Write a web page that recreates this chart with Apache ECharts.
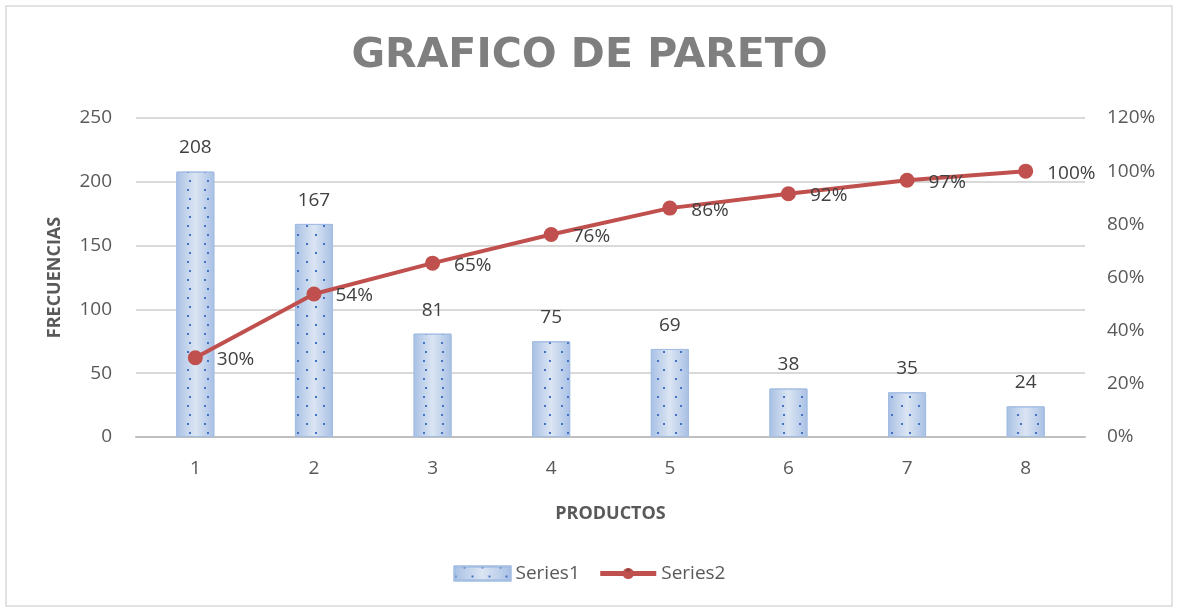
<!DOCTYPE html>
<html>
<head>
<meta charset="utf-8">
<script src="https://cdn.jsdelivr.net/npm/echarts@6/dist/echarts.min.js"></script>
<style>
  html, body { margin: 0; padding: 0; background: #fff; }
  #chart { width: 1179px; height: 610px; }
</style>
</head>
<body>
<div id="chart"></div>
<script>
// chart data
const productos = ['1', '2', '3', '4', '5', '6', '7', '8']
const frecuencias = [208, 167, 81, 75, 69, 38, 35, 24]
const acumulado = [29.8, 53.8, 65.4, 76.2, 86.1, 91.5, 96.6, 100]

const txt = '#595959'
const font = '"Open Sans", "Noto Sans", sans-serif'

const chart = echarts.init(document.getElementById('chart'))

const option = {
  animation: false,
  aria: { enabled: true, decal: { show: true } },
  title: {
    text: 'GRAFICO DE PARETO',
    left: 'center',
    top: 31,
    textStyle: { color: '#7f7f7f', fontSize: 41, fontWeight: 'bold', fontFamily: '"DejaVu Sans", sans-serif' }
  },
  legend: {
    bottom: 22,
    left: 'center',
    itemGap: 18,
    itemWidth: 56,
    itemHeight: 14,
    textStyle: { color: txt, fontSize: 19, fontFamily: font },
    data: [
      { name: 'Series1', icon: 'rect' },
      { name: 'Series2', lineStyle: { width: 5 } }
    ]
  },
  grid: { left: 136, right: 94, top: 118, bottom: 173, containLabel: false },
  xAxis: {
    type: 'category',
    data: productos,
    name: 'PRODUCTOS',
    nameLocation: 'middle',
    nameGap: 68,
    nameTextStyle: { color: txt, fontSize: 18, fontWeight: 'bold', fontFamily: font },
    axisLine: { lineStyle: { color: '#bfbfbf', width: 2 } },
    axisTick: { show: false },
    axisLabel: { color: txt, fontSize: 19, fontFamily: font, margin: 22 }
  },
  yAxis: [{
    type: 'value',
    min: 0, max: 250, interval: 50,
    name: 'FRECUENCIAS',
    nameLocation: 'middle',
    nameGap: 72,
    nameRotate: 90,
    nameTextStyle: { color: txt, fontSize: 18, fontWeight: 'bold', fontFamily: font },
    axisLine: { show: false },
    axisTick: { show: false },
    axisLabel: { color: txt, fontSize: 19, fontFamily: font, margin: 24 },
    splitLine: { lineStyle: { color: '#d9d9d9', width: 2 } }
  }, {
    type: 'value',
    min: 0, max: 120, interval: 20,
    axisLine: { show: false },
    axisTick: { show: false },
    axisLabel: { color: txt, fontSize: 19, fontFamily: font, margin: 22, formatter: '{value}%' },
    splitLine: { show: false }
  }],
  series: [{
    name: 'Series1',
    type: 'bar',
    barWidth: 38,
    data: frecuencias,
    itemStyle: {
      color: new echarts.graphic.LinearGradient(0, 0, 1, 0, [
        { offset: 0, color: '#a8c0e4' },
        { offset: 0.5, color: '#dbe5f3' },
        { offset: 1, color: '#a8c0e4' }
      ]),
      borderColor: '#a3bde3',
      borderWidth: 1,
      decal: {
        symbol: 'rect',
        symbolSize: 1,
        color: '#4472c4',
        dashArrayX: [[2, 15], [0, 8.5, 2, 6.5]],
        dashArrayY: [2, 6.5],
        rotation: 0
      }
    },
    label: {
      show: true,
      position: 'top',
      distance: 14,
      color: '#404040',
      fontSize: 19,
      fontFamily: font
    }
  }, {
    name: 'Series2',
    type: 'line',
    yAxisIndex: 1,
    data: acumulado,
    symbol: 'circle',
    symbolSize: 15,
    lineStyle: { color: '#c0504d', width: 4 },
    itemStyle: { color: '#c0504d' },
    label: {
      show: true,
      position: 'right',
      distance: 14,
      offset: [0, 2],
      color: '#404040',
      fontSize: 19,
      fontFamily: font,
      formatter: p => Math.round(p.value) + '%'
    }
  }],
  graphic: [{
    type: 'rect',
    shape: { x: 6, y: 6, width: 1166, height: 600 },
    style: { fill: 'none', stroke: '#d9d9d9', lineWidth: 1.5 },
    silent: true,
    z: -1
  }]
}

chart.setOption(option)
</script>
</body>
</html>
